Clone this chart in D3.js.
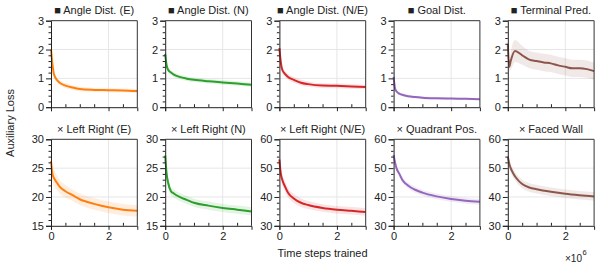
<!DOCTYPE html>
<html><head><meta charset="utf-8">
<script src="https://cdn.jsdelivr.net/npm/d3@7"></script>
<style>body{margin:0;background:#fff}svg{display:block;font-family:"Liberation Sans",Arial,sans-serif}</style>
</head><body><svg id="c" width="600" height="271"></svg>
<script>
const steps = [0, 0.05, 0.1, 0.2, 0.3, 0.5, 0.75, 1.0, 1.5, 2.0, 2.5, 3.0];
const stepsTerm = [0, 0.05, 0.1, 0.25, 0.5, 0.75, 1.0, 1.25, 1.5, 1.75, 2.0, 2.25, 2.5, 2.75, 3.0];
const titles = ["■ Angle Dist. (E)", "■ Angle Dist. (N)", "■ Angle Dist. (N/E)", "■ Goal Dist.", "■ Terminal Pred.",
  "× Left Right (E)", "× Left Right (N)", "× Left Right (N/E)", "× Quadrant Pos.", "× Faced Wall"];
const colors = ["#ff7f0e", "#2ca02c", "#d62728", "#9467bd", "#8c564b"];
const yDomains = [[0,3],[0,3],[0,3],[0,3],[0,3],[15,30],[15,30],[30,60],[30,60],[30,60]];
const yMajor = [[0,1,2,3],[0,1,2,3],[0,1,2,3],[0,1,2,3],[0,1,2,3],[15,20,25,30],[15,20,25,30],[30,40,50,60],[30,40,50,60],[30,40,50,60]];
const yMinorStep = [0.2,0.2,0.2,0.2,0.2,1,1,2,2,2];
const xTickLabels = [0, 2];

const meanAngleE = [2.0, 1.5, 1.15, 0.95, 0.85, 0.75, 0.68, 0.63, 0.6, 0.59, 0.58, 0.56];
const bandAngleE = [0.05, 0.08, 0.08, 0.09, 0.09, 0.09, 0.08, 0.08, 0.07, 0.07, 0.07, 0.07];
const meanAngleN = [1.85, 1.45, 1.3, 1.2, 1.13, 1.05, 0.99, 0.95, 0.9, 0.86, 0.82, 0.78];
const bandAngleN = [0.05, 0.08, 0.08, 0.08, 0.08, 0.08, 0.08, 0.08, 0.08, 0.08, 0.08, 0.08];
const meanAngleNE = [2.05, 1.55, 1.3, 1.15, 1.05, 0.95, 0.85, 0.8, 0.75, 0.74, 0.72, 0.7];
const bandAngleNE = [0.05, 0.1, 0.1, 0.1, 0.1, 0.1, 0.1, 0.09, 0.08, 0.08, 0.08, 0.08];
const meanGoal = [1.05, 0.65, 0.55, 0.47, 0.43, 0.38, 0.35, 0.33, 0.31, 0.3, 0.29, 0.28];
const bandGoal = [0.04, 0.05, 0.05, 0.05, 0.05, 0.05, 0.05, 0.05, 0.04, 0.04, 0.04, 0.04];
const meanTerm = [2.2, 1.4, 1.6, 1.95, 1.8, 1.65, 1.6, 1.55, 1.52, 1.45, 1.4, 1.35, 1.35, 1.32, 1.25];
const bandTerm = [0.1, 0.15, 0.3, 0.38, 0.33, 0.3, 0.3, 0.3, 0.3, 0.3, 0.3, 0.3, 0.3, 0.3, 0.3];
const meanLRE = [26.2, 24.0, 23.3, 22.5, 21.8, 21.0, 20.3, 19.6, 18.8, 18.2, 17.8, 17.6];
const bandLRE = [0.5, 1.2, 1.4, 1.3, 1.2, 1.1, 1.0, 1.0, 1.0, 1.0, 1.0, 1.0];
const meanLRN = [27.2, 24.0, 22.5, 21.0, 20.6, 20.0, 19.5, 19.0, 18.5, 18.1, 17.8, 17.5];
const bandLRN = [0.4, 0.8, 0.8, 0.7, 0.7, 0.7, 0.7, 0.7, 0.7, 0.7, 0.7, 0.7];
const meanLRNE = [53.0, 48.0, 46.0, 43.5, 41.5, 39.5, 38.0, 37.2, 36.2, 35.6, 35.2, 34.8];
const bandLRNE = [1.0, 1.8, 1.8, 1.8, 1.7, 1.6, 1.5, 1.4, 1.3, 1.3, 1.3, 1.3];
const meanQuad = [54.5, 52.0, 50.0, 48.0, 46.0, 44.0, 42.5, 41.5, 40.2, 39.3, 38.7, 38.3];
const bandQuad = [0.8, 1.0, 1.0, 1.0, 1.0, 1.0, 1.0, 1.0, 1.0, 1.0, 1.0, 1.0];
const meanWall = [54.0, 51.5, 50.0, 48.0, 46.5, 44.5, 43.3, 42.7, 41.8, 41.1, 40.6, 40.2];
const bandWall = [1.0, 1.3, 1.4, 1.5, 1.5, 1.5, 1.5, 1.5, 1.5, 1.5, 1.5, 1.5];

const series = [
  [steps, meanAngleE, bandAngleE], [steps, meanAngleN, bandAngleN], [steps, meanAngleNE, bandAngleNE],
  [steps, meanGoal, bandGoal], [stepsTerm, meanTerm, bandTerm],
  [steps, meanLRE, bandLRE], [steps, meanLRN, bandLRN], [steps, meanLRNE, bandLRNE],
  [steps, meanQuad, bandQuad], [steps, meanWall, bandWall]
];

const svg = d3.select("#c");
const W = 86.3, H = 86.5, left0 = 51, dx = 114.2, tops = [20.7, 139.3];
const font = 11;

series.forEach((s, i) => {
  const row = Math.floor(i / 5), col = i % 5;
  const x0 = left0 + col * dx, y0 = tops[row];
  const x = d3.scaleLinear().domain([0, 3]).range([x0, x0 + W]);
  const y = d3.scaleLinear().domain(yDomains[i]).range([y0 + H, y0]);
  const g = svg.append("g");
  const col_ = colors[col];
  // grid
  g.selectAll(".gy").data(yMajor[i].slice(1, -1)).join("line")
    .attr("x1", x0).attr("x2", x0 + W).attr("y1", d => y(d)).attr("y2", d => y(d))
    .attr("stroke", "#e6e6e6").attr("stroke-width", 1);
  g.selectAll(".gx").data([2]).join("line")
    .attr("x1", d => x(d)).attr("x2", d => x(d)).attr("y1", y0).attr("y2", y0 + H)
    .attr("stroke", "#e6e6e6").attr("stroke-width", 1);
  // data
  const [xs, m, b] = s;
  const pts = xs.map((v, k) => ({x: v, m: m[k], b: b[k]}));
  g.append("path").datum(pts)
    .attr("d", d3.area().x(d => x(d.x)).y0(d => y(d.m - d.b)).y1(d => y(d.m + d.b)).curve(d3.curveMonotoneX))
    .attr("fill", col_).attr("fill-opacity", 0.13);
  g.append("path").datum(pts)
    .attr("d", d3.line().x(d => x(d.x)).y(d => y(d.m)).curve(d3.curveMonotoneX))
    .attr("fill", "none").attr("stroke", col_).attr("stroke-width", 2);
  // frame top/right
  g.append("path").attr("d", `M${x0},${y0}H${x0 + W}V${y0 + H}`)
    .attr("fill", "none").attr("stroke", "#333").attr("stroke-width", 1);
  // y axis
  const [lo, hi] = yDomains[i];
  const minor = d3.range(lo, hi + 1e-9, yMinorStep[i]).filter(v => !yMajor[i].some(M => Math.abs(M - v) < 1e-6));
  const ya = svg.append("g").attr("transform", `translate(${x0},0)`);
  ya.call(d3.axisLeft(y).tickValues(yMajor[i]).tickSize(5).tickPadding(2).tickFormat(d3.format("d")));
  const yb = svg.append("g").attr("transform", `translate(${x0},0)`);
  yb.call(d3.axisLeft(y).tickValues(minor).tickSize(2.5).tickFormat(""));
  yb.select(".domain").remove();
  // x axis
  const xa = svg.append("g").attr("transform", `translate(0,${y0 + H})`);
  xa.call(d3.axisBottom(x).tickValues(row === 1 ? xTickLabels : xTickLabels).tickSize(4).tickPadding(2)
    .tickFormat(row === 1 ? d3.format("d") : ""));
  const xb = svg.append("g").attr("transform", `translate(0,${y0 + H})`);
  xb.call(d3.axisTop(x).tickValues([0.5, 1, 1.5, 2.5]).tickSize(3).tickFormat(""));
  xb.select(".domain").remove();
  [ya, yb, xa, xb].forEach(a => {
    a.selectAll("text").attr("font-size", font).attr("fill", "#222").attr("font-family", "Liberation Sans, Arial, sans-serif");
    a.selectAll("line,path").attr("stroke", "#222");
  });
  // title
  svg.append("text").attr("x", x0 + W / 2).attr("y", y0 - 6.5).attr("text-anchor", "middle")
    .attr("font-size", font).attr("fill", "#222").text(titles[i]);
});

svg.append("text").attr("transform", "translate(14,123) rotate(-90)").attr("text-anchor", "middle")
  .attr("font-size", font).attr("fill", "#222").text("Auxiliary Loss");
svg.append("text").attr("x", left0 + 2 * dx + W / 2).attr("y", 257).attr("text-anchor", "middle")
  .attr("font-size", font).attr("fill", "#222").text("Time steps trained");
const ex = svg.append("text").attr("x", 582).attr("y", 262).attr("text-anchor", "end")
  .attr("font-size", 10).attr("fill", "#222");
ex.append("tspan").text("×10");
svg.append("text").attr("x", 582.5).attr("y", 255).attr("font-size", 7.5).attr("fill", "#222").text("6");
</script></body></html>
